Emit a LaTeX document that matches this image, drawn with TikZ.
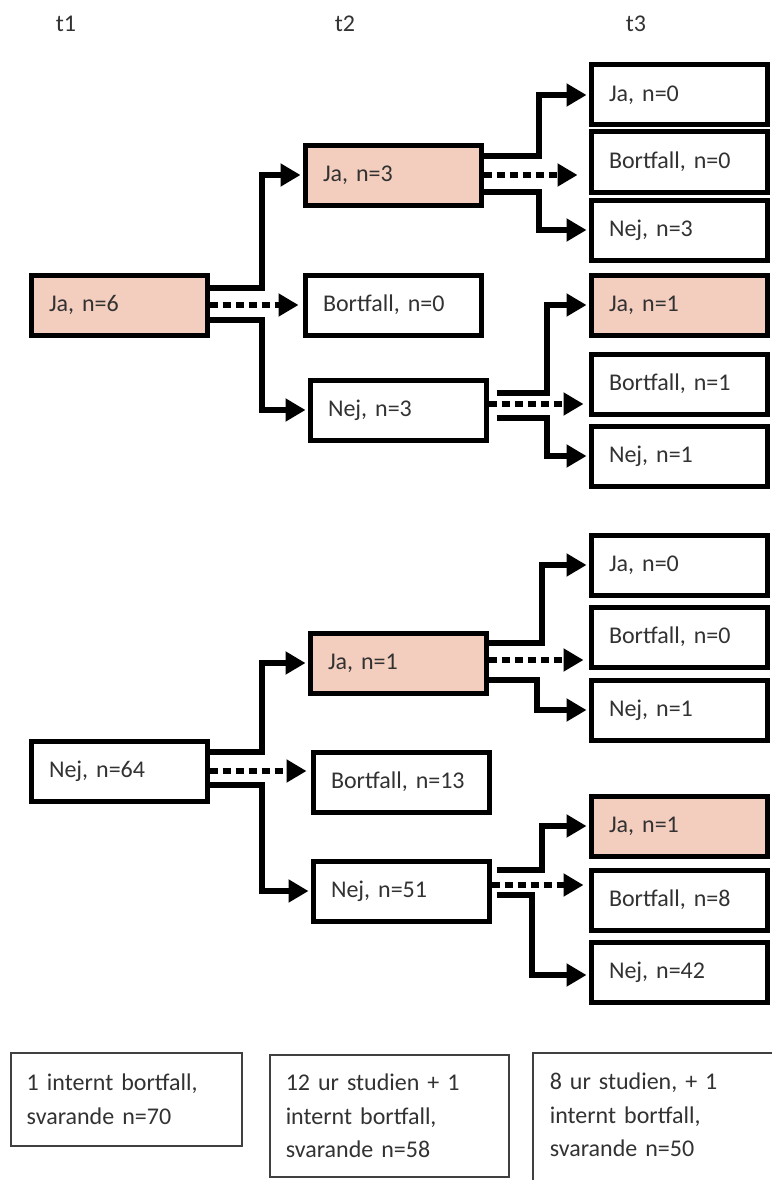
\documentclass[tikz,border=0pt]{standalone}
\usepackage{fontspec}
\setmainfont{Carlito}
\usetikzlibrary{arrows.meta}
\definecolor{jafill}{RGB}{243,205,190}
\definecolor{txtgray}{RGB}{50,50,50}
\tikzset{
  box/.style={draw, line width=5pt, rectangle, minimum height=60pt, text width=140pt, inner xsep=18pt, align=left, font=\fontsize{24}{29}\selectfont, text=txtgray},
  jabox/.style={box, fill=jafill},
  notebox/.style={draw=black!75, line width=1.5pt, anchor=north west, align=left, inner xsep=16pt, inner ysep=8pt, font=\fontsize{24}{33.5}\selectfont, text=txtgray},
  noteframe/.style={draw=black!75, line width=1.5pt},
  arr/.style={line width=6pt, shorten >=2pt, -{Triangle[length=20pt,width=22pt]}},
  dotarr/.style={arr, dash pattern=on 8pt off 5pt},
  tlabel/.style={font=\fontsize{24}{29}\selectfont, text=txtgray}
}

\begin{document}
\begin{tikzpicture}[x=1pt, y=-1pt]
        \useasboundingbox (0,0) rectangle (771,1180);

        \node[tlabel] (t1) at (66,24) {t1};
        \node[tlabel] (t2) at (345,24) {t2};
        \node[tlabel] (t3) at (636,24) {t3};

        \node[jabox] (A) at (119,305) {Ja, n=6};
        \node[jabox] (B) at (393,175) {Ja, n=3};
        \node[box] (C) at (393,305) {Bortfall, n=0};
        \node[box] (D) at (398,410) {Nej, n=3};

        \node[box] (T1) at (679,95) {Ja, n=0};
        \node[box] (T2) at (679,162) {Bortfall, n=0};
        \node[box] (T3) at (679,230) {Nej, n=3};
        \node[jabox] (T4) at (679,305) {Ja, n=1};
        \node[box] (T5) at (679,384) {Bortfall, n=1};
        \node[box] (T6) at (679,456) {Nej, n=1};

        \node[box] (E) at (119,771) {Nej, n=64};
        \node[jabox] (F) at (398,663) {Ja, n=1};
        \node[box] (G) at (401,782) {Bortfall, n=13};
        \node[box] (H) at (401,891) {Nej, n=51};

        \node[box] (U1) at (679,565) {Ja, n=0};
        \node[box] (U2) at (679,637) {Bortfall, n=0};
        \node[box] (U3) at (679,710) {Nej, n=1};
        \node[jabox] (U4) at (679,826) {Ja, n=1};
        \node[box] (U5) at (679,900) {Bortfall, n=8};
        \node[box] (U6) at (679,972) {Nej, n=42};

        \node[notebox, text width=199pt, minimum height=93pt] (N1) at (10,1052) {1 internt bortfall,\\svarande n=70};
        \node[notebox, text width=207pt, minimum height=122pt] (N2) at (269,1054) {12 ur studien + 1\\internt bortfall,\\svarande n=58};
        \node[notebox, draw=none, text width=250pt, minimum height=122pt] (N3) at (533,1053) {8 ur studien, + 1\\internt bortfall,\\svarande n=50};
        \draw[noteframe] ([yshift=-30pt]N3.south west) -- (N3.north west) -- (N3.north east);

        \draw[arr] ([yshift=17pt]A.east) -- ++(52,0) |- (B.west);
        \draw[dotarr, shorten >=4pt] (A.east) -- (C.west);
        \draw[arr] ([yshift=-15pt]A.east) -- ++(52,0) |- (D.west);

        \draw[arr] ([yshift=19pt]B.east) -- ++(55,0) |- (T1.west);
        \draw[dotarr, shorten >=11pt] (B.east) -- (B.east -| T2.west);
        \draw[arr] ([yshift=-17pt]B.east) -- ++(55,0) |- (T3.west);

        \draw[arr] ([xshift=8pt,yshift=17pt]D.east) -- ++(50,0) |- (T4.west);
        \draw[dotarr, shorten >=5pt] ([yshift=6pt]D.east) -- ([yshift=6pt]D.east -| T5.west);
        \draw[arr] ([xshift=8pt,yshift=-8pt]D.east) -- ++(50,0) |- (T6.west);

        \draw[arr] ([yshift=19pt]E.east) -- ++(52,0) |- (F.west);
        \draw[dotarr, shorten >=4pt] (E.east) -- (E.east -| G.west);
        \draw[arr] ([yshift=-14pt]E.east) -- ++(52,0) |- (H.west);

        \draw[arr] ([yshift=20pt]F.east) -- ++(53,0) |- (U1.west);
        \draw[dotarr, shorten >=5pt] ([yshift=3pt]F.east) -- ([yshift=3pt]F.east -| U2.west);
        \draw[arr] ([yshift=-17pt]F.east) -- ++(48,0) |- (U3.west);

        \draw[arr] ([xshift=5pt,yshift=21pt]H.east) -- ++(45,0) |- (U4.west);
        \draw[dotarr, shorten >=5pt] ([yshift=6pt]H.east) -- ([yshift=6pt]H.east -| U5.west);
        \draw[arr] ([xshift=5pt,yshift=-4pt]H.east) -- ++(35,0) |- ([yshift=-3pt]U6.west);
    \end{tikzpicture}
\end{document}
